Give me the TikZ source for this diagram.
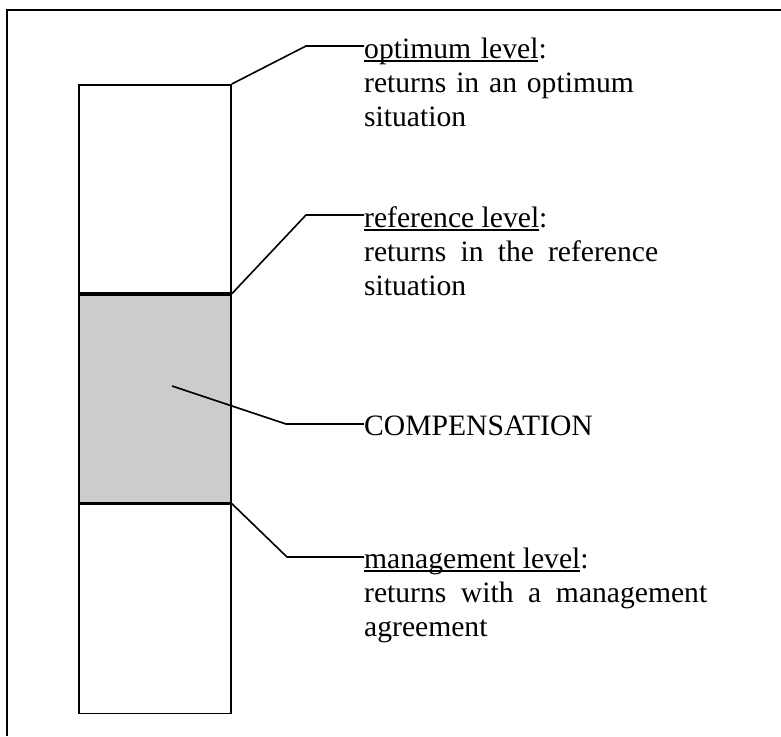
\documentclass[tikz,border=0pt]{standalone}
\usepackage{fontspec}
\setmainfont{Liberation Serif}
\usetikzlibrary{positioning}

% underlined level name
\newcommand\lvlname[1]{\setbox0\hbox{#1}\rlap{\rule[-3.5pt]{\wd0}{1.2pt}}\box0}

\tikzset{
	levelbox/.style={draw, line width=1.8pt, minimum width=152pt, inner sep=0pt},
	conn/.style={line width=1.6pt},
	lbl/.style={inner sep=0pt, anchor=base west, font=\fontsize{29.6}{34}\selectfont}
}

\begin{document}
\begin{tikzpicture}[x=1pt, y=-1pt]
		\useasboundingbox (0,0) rectangle (781,736);
		%frame
		\draw[line width=2.6pt] (7,736) -- (7,10) -- (781,10);
		
		%column
		\node[levelbox, minimum height=208pt, anchor=north west] (optbox) at (78,84) {};
		\node[levelbox, minimum height=208pt, fill=black!20, below=0pt of optbox] (compbox) {};
		\node[levelbox, minimum height=209pt, below=0pt of compbox] (mgmtbox) {};
		
		%labels
		\node[lbl, text width=294pt, align=left] (optlab) at (364,58)
			{\lvlname{optimum level}:\\returns in an optimum situation};
		\node[lbl, text width=294pt, align=justify] (reflab) at (364,227)
			{\lvlname{reference level}:\\returns in the reference situation};
		\node[lbl] (complab) at (364,435) {COMPENSATION};
		\node[lbl, text width=343pt, align=justify] (mgmtlab) at (364,568)
			{\lvlname{management level}:\\returns with a management agreement};
		
		%connectors
		\coordinate (compdot) at (172,386);
		\draw[conn] (optbox.north east) -- (306,46) -- ([yshift=12pt]optlab.base west);
		\draw[conn] (compbox.north east) -- (306,215) -- ([yshift=12pt]reflab.base west);
		\draw[conn] (compdot) -- (286,424) -- ([yshift=11pt]complab.base west);
		\draw[conn] (mgmtbox.north east) -- (287,557) -- ([yshift=11pt]mgmtlab.base west);
\end{tikzpicture}
\end{document}
